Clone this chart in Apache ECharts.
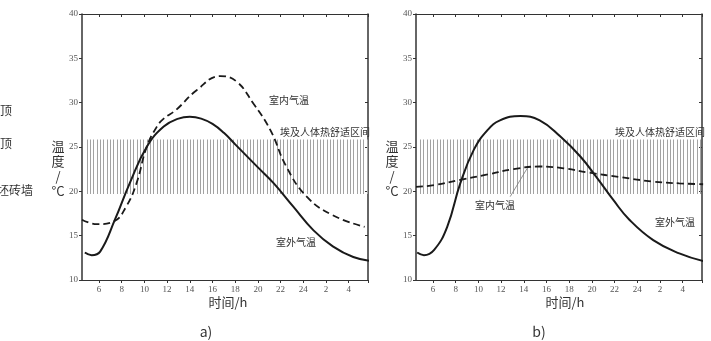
<!DOCTYPE html>
<html>
<head>
<meta charset="utf-8">
<script src="https://cdn.jsdelivr.net/npm/echarts@6/dist/echarts.min.js"></script>
<style>
html,body{margin:0;padding:0;background:#fff;}
#c{width:711px;height:341px;}
</style>
</head>
<body>
<div id="c"></div>
<script>
// ---- data ----
const xTickLabels = [6, 8, 10, 12, 14, 16, 18, 20, 22, 24, 26, 28]; // shown as 6..24, 2, 4
const yTicks = [10, 15, 20, 25, 30, 35, 40];
const comfortBand = [19.7, 25.85];

// a) outdoor (solid)
const aOutT = [4.75, 5.35, 6.1, 7.4, 8.7, 10.2, 11.7, 13.0, 14.0, 15.0, 16.0, 17.0, 18.0, 19.0, 20.0, 21.4, 23.1, 24.9, 26.6, 28.4, 30.2];
const aOutV = [13.1, 12.8, 13.2, 16.8, 20.9, 25.0, 27.3, 28.2, 28.4, 28.2, 27.6, 26.6, 25.3, 24.0, 22.7, 20.9, 18.3, 15.6, 13.8, 12.6, 12.1];
// a) indoor (dashed)
const aInT = [4.5, 5.8, 7.3, 8.4, 9.3, 10.2, 11.1, 11.7, 12.8, 14.6, 16.7, 18.1, 19.6, 21.1, 22.5, 24.3, 26.6, 29.4];
const aInV = [16.8, 16.3, 16.6, 18.3, 20.9, 25.0, 27.3, 28.2, 29.2, 31.4, 33.0, 32.4, 29.9, 26.9, 22.8, 19.4, 17.3, 16.0];
// b) outdoor (solid)
const bOutT = [4.6, 5.2, 6.1, 7.25, 8.4, 9.6, 10.8, 11.9, 13.7, 15.4, 17.2, 19.0, 20.4, 21.9, 23.3, 25.4, 27.7, 29.9];
const bOutV = [13.1, 12.8, 13.4, 16.0, 20.9, 24.7, 26.9, 28.0, 28.5, 28.0, 26.2, 23.9, 21.6, 19.0, 16.8, 14.5, 13.0, 12.1];
// b) indoor (dashed)
const bInT = [4.5, 6.1, 8.4, 10.8, 13.1, 15.4, 17.5, 19.8, 22.5, 25.4, 27.7, 29.8];
const bInV = [20.5, 20.7, 21.3, 21.9, 22.5, 22.8, 22.6, 22.1, 21.6, 21.1, 20.9, 20.8];

const pair = (t, v) => t.map((x, i) => [x, v[i]]);

// hatch pattern
const pat = document.createElement('canvas');
pat.width = 10; pat.height = 10;
const pc = pat.getContext('2d');
pc.fillStyle = '#a3a3a3';
[0, 3, 7].forEach(x => pc.fillRect(x, 0, 1, 10));

const X_MIN = 4.5, X_MAX = 29.7;
const tickVals = xTickLabels.concat([X_MAX]);
const serif = 'Liberation Serif';
const cjk = '"Noto Sans CJK SC", "Noto Sans", sans-serif';

function xAxes(g) {
  const base = {
    gridIndex: g, type: 'value', min: X_MIN, max: X_MAX,
    axisLine: { lineStyle: { color: '#333', width: 1.2 } },
    splitLine: { show: false }
  };
  return [
    Object.assign({}, base, {
      axisTick: { customValues: tickVals, length: 3, lineStyle: { color: '#333' } },
      axisLabel: { customValues: xTickLabels, fontFamily: serif, fontSize: 9, color: '#555', margin: 5,
        formatter: v => String(v > 24 ? v - 24 : v) }
    }),
    Object.assign({}, base, {
      axisTick: { customValues: tickVals, length: 3, inside: true, lineStyle: { color: '#333' } },
      axisLabel: { show: false }
    })
  ];
}
function yAxes(g) {
  const base = {
    gridIndex: g, type: 'value', min: 10, max: 40, interval: 5,
    axisLine: { show: true, lineStyle: { color: '#333', width: 1.5 } },
    splitLine: { show: false }
  };
  return [
    Object.assign({}, base, {
      axisTick: { show: true, length: 3, lineStyle: { color: '#333' } },
      axisLabel: { fontFamily: serif, fontSize: 9, color: '#555', margin: 4 }
    }),
    Object.assign({}, base, {
      axisTick: { show: true, length: 3, inside: true, lineStyle: { color: '#333' } },
      axisLabel: { show: false }
    })
  ];
}

function band() {
  return {
    silent: true,
    itemStyle: { color: { image: pat, repeat: 'repeat' } },
    data: [[{ xAxis: 4.75, yAxis: comfortBand[0] }, { xAxis: 30, yAxis: comfortBand[1] }]]
  };
}

const solid = { color: '#1a1a1a', width: 2 };
const dashed = { color: '#1a1a1a', width: 1.8, type: [7, 4] };

const txt = (x, y, s, size, align, extra) => Object.assign({
  type: 'text', x: x, y: y,
  style: { text: s, fontSize: size, fill: '#333', fontFamily: cjk, align: align || 'center', verticalAlign: 'middle' }
}, extra || {});
const vname = (x) => ({
  type: 'text', x: x, y: 169,
  style: { text: '温\n度\n/\n°C', fontSize: 13, lineHeight: 15, fill: '#333', fontFamily: cjk, align: 'center', verticalAlign: 'middle' }
});

const option = {
  animation: false,
  backgroundColor: '#fff',
  grid: [
    { left: 82, top: 14, width: 286, bottom: 61 },
    { left: 416, top: 14, width: 286, bottom: 61 }
  ],
  xAxis: xAxes(0).concat(xAxes(1)),
  yAxis: yAxes(0).concat(yAxes(1)),
  series: [
    { type: 'line', xAxisIndex: 0, yAxisIndex: 0, data: pair(aOutT, aOutV), smooth: 0.45, showSymbol: false,
      clip: false, lineStyle: solid, markArea: band(), z: 3 },
    { type: 'line', xAxisIndex: 0, yAxisIndex: 0, data: pair(aInT, aInV), smooth: 0.45, showSymbol: false,
      clip: false, lineStyle: dashed, z: 3 },
    { type: 'line', xAxisIndex: 2, yAxisIndex: 2, data: pair(bOutT, bOutV), smooth: 0.45, showSymbol: false,
      clip: false, lineStyle: solid, markArea: band(), z: 3 },
    { type: 'line', xAxisIndex: 2, yAxisIndex: 2, data: pair(bInT, bInV), smooth: 0.45, showSymbol: false,
      clip: false, lineStyle: dashed, z: 3,
      markLine: { silent: true, symbol: ['none', 'none'], label: { show: false },
        lineStyle: { color: '#777', width: 0.8, type: 'solid' },
        data: [[{ coord: [12.8, 19.4] }, { coord: [14.3, 22.6] }]] } }
  ],
  graphic: [
    // fragments from neighbouring figure
    txt(0, 110, '顶', 12, 'left'),
    txt(0, 143, '顶', 12, 'left'),
    txt(-3, 190, '坯砖墙', 12, 'left'),
    // y axis names
    vname(58),
    vname(392),
    // x axis names
    txt(228, 302, '时间/h', 13),
    txt(565, 302, '时间/h', 13),
    txt(206, 332, 'a)', 14),
    txt(539, 332, 'b)', 14),
    // annotations a)
    txt(289, 100, '室内气温', 10),
    txt(325, 132, '埃及人体热舒适区间', 10),
    txt(296, 242, '室外气温', 10),
    // annotations b)
    txt(660, 132, '埃及人体热舒适区间', 10),
    txt(495, 205, '室内气温', 10),
    txt(675, 222, '室外气温', 10)
  ]
};

const chart = echarts.init(document.getElementById('c'), null, { renderer: 'canvas' });
chart.setOption(option);
</script>
</body>
</html>
